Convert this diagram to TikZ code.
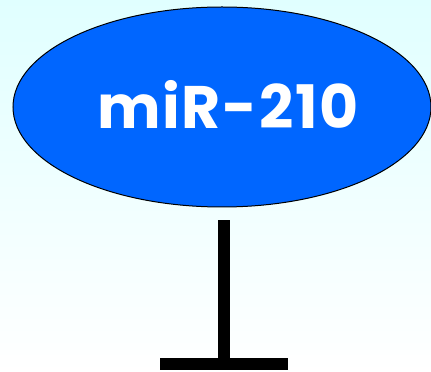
\documentclass[tikz,border=0pt]{standalone}
\usepackage{fontspec}
\setmainfont{Poppins}[LetterSpace=3]
\usetikzlibrary{shapes.geometric}
\definecolor{bgtop}{HTML}{E0FFFF}
\definecolor{mirblue}{HTML}{0066FF}
\tikzset{
  mirnode/.style={ellipse, draw=black, line width=1pt, fill=mirblue, minimum width=418pt, minimum height=200pt, inner sep=0pt, text=white},
  mirtext/.style={text=white, font=\fontsize{60}{60}\selectfont\bfseries, inner sep=0pt},
  inhib/.style={line width=12pt, black}
}
\begin{document}
\begin{tikzpicture}[x=1pt,y=1pt]
\shade[top color=bgtop, bottom color=white] (0,0) rectangle (431,372);
\useasboundingbox (0,0) rectangle (431,372);
\node[mirnode] (mir) at (222,265) {};
\node[mirtext] (lbl) at (228,268) {miR-210};
\coordinate (t) at (224,8);
\draw[inhib] ([xshift=2pt,yshift=-13pt]mir.south) -- ([yshift=-6pt]t);
\draw[inhib] ([xshift=-64pt]t) -- ([xshift=64pt]t);
\end{tikzpicture}
\end{document}
